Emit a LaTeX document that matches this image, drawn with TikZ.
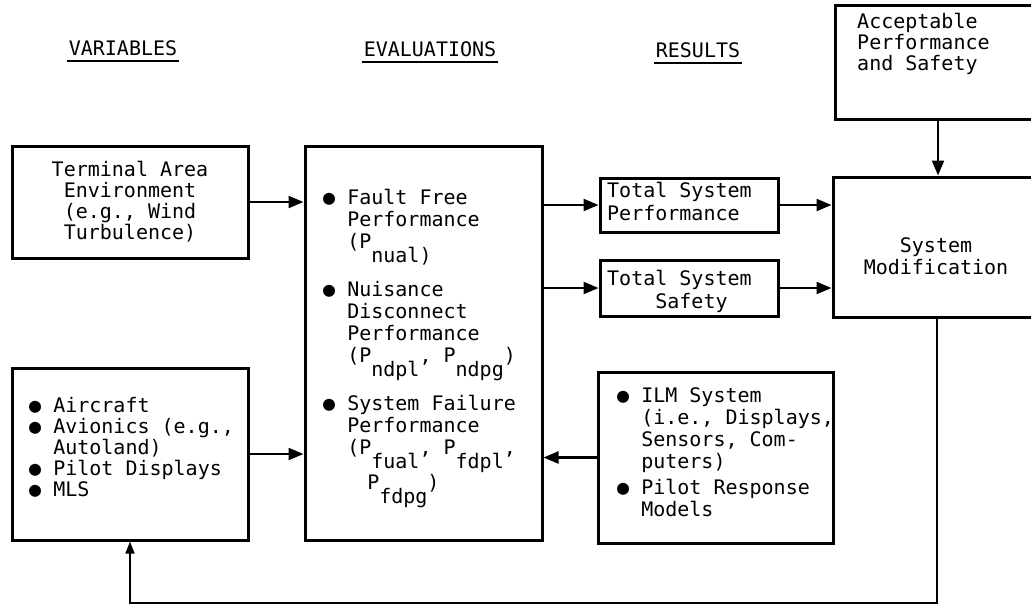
\documentclass[tikz,border=0pt]{standalone}
\usepackage{fontspec}
\setmainfont{DejaVu Sans Mono}
\usetikzlibrary{arrows.meta,calc}
% lowered index letters, kept out of the line height
\newcommand{\lowsub}[1]{\smash{\raisebox{-14pt}{#1}}}
% indent for continuation lines under a bullet
\newcommand{\ind}{\phantom{●\ }}
\begin{document}
\begin{tikzpicture}[x=1pt,y=-1pt,
  box/.style={draw, line width=3pt, inner sep=0pt},
  conn/.style={line width=2.2pt, -{Triangle[length=15pt,width=12pt]}},
  backconn/.style={line width=1.6pt, -{Triangle[length=12pt,width=9pt]}},
  txt/.style={inner sep=0pt, font=\fontsize{20}{22}\selectfont},
  head/.style={txt, anchor=base},
  uline/.style={line width=2pt},
]
\useasboundingbox (0,0) rectangle (1031,606);

% column headings
\node[head] (hvar) at (123,55) {VARIABLES};
\node[head] (heval) at (430,56) {EVALUATIONS};
\node[head] (hres) at (698,57) {RESULTS};
\foreach \h in {hvar,heval,hres}
  \draw[uline] ($(\h.base west)+(-2,6)$) -- ($(\h.base east)+(2,6)$);

% boxes (the two on the right run past the edge of the sheet)
\node[box, minimum width=206pt, minimum height=114pt] (accept) at (938,62) {};
\node[box, minimum width=236pt, minimum height=112pt] (env) at (130,202) {};
\node[box, minimum width=237pt, minimum height=394pt] (eval) at (423.5,343) {};
\node[box, minimum width=178pt, minimum height=54pt] (tsp) at (689,205) {};
\node[box, minimum width=178pt, minimum height=56pt] (tss) at (689,288) {};
\node[box, minimum width=208pt, minimum height=140pt] (sysmod) at (937,247) {};
\node[box, minimum width=236pt, minimum height=172pt] (aircraft) at (130,454) {};
\node[box, minimum width=235pt, minimum height=171pt] (ilm) at (715.5,457.5) {};

% box texts
\node[txt, anchor=north west, align=left, font=\fontsize{20}{21}\selectfont]
  (accepttext) at (857,13) {Acceptable\\Performance\\and Safety};
\node[txt, align=center, font=\fontsize{20}{21}\selectfont]
  (envtext) at (130,202) {Terminal Area\\Environment\\(e.g., Wind\\Turbulence)};
\node[txt, anchor=north west, align=left] (evaltext) at (323,189) {%
  ●\ Fault Free\\
  \ind Performance\\
  \ind (P\lowsub{nual)}\\[26pt]
  ●\ Nuisance\\
  \ind Disconnect\\
  \ind Performance\\
  \ind (P\lowsub{ndpl}, P\lowsub{ndpg})\\[26pt]
  ●\ System Failure\\
  \ind Performance\\
  \ind (P\lowsub{fual}, P\lowsub{fdpl},\\[13pt]
  \ind\hspace*{20pt}P\lowsub{fdpg})};
\node[txt, anchor=north west, align=left, font=\fontsize{20}{23}\selectfont]
  (tsptext) at (607,182) {Total System\\Performance};
\node[txt, anchor=north west, align=left, font=\fontsize{20}{23}\selectfont]
  (tsstext) at (607,270) {Total System\\\ \ \ \ Safety};
\node[txt, align=center] (sysmodtext) at (936,256) {System\\Modification};
\node[txt, anchor=north west, align=left, font=\fontsize{20}{21}\selectfont]
  (aircrafttext) at (29,397) {%
  ●\ Aircraft\\
  ●\ Avionics (e.g.,\\
  \ind Autoland)\\
  ●\ Pilot Displays\\
  ●\ MLS};
\node[txt, anchor=north west, align=left] (ilmtext) at (617,387) {%
  ●\ ILM System\\
  \ind (i.e., Displays,\\
  \ind Sensors, Com-\\
  \ind puters)\\[4pt]
  ●\ Pilot Response\\
  \ind Models};

% connectors
\draw[conn] (accept.south) -- (accept.south |- sysmod.north);
\draw[conn] (env.east) -- (env -| eval.west);
\draw[conn] (aircraft.east) -- (aircraft -| eval.west);
\draw[conn] (ilm.west) -- (ilm -| eval.east);
\draw[conn] (tsp -| eval.east) -- (tsp.west);
\draw[conn] (tss -| eval.east) -- (tss.west);
\draw[conn] (tsp.east) -- (tsp -| sysmod.west);
\draw[conn] (tss.east) -- (tss -| sysmod.west);

% feedback loop back to the variables
\coordinate (fb) at (0,603);
\draw[backconn] (sysmod.south) -- (sysmod.south |- fb) -- (aircraft.south |- fb) -- (aircraft.south);
\end{tikzpicture}
\end{document}
